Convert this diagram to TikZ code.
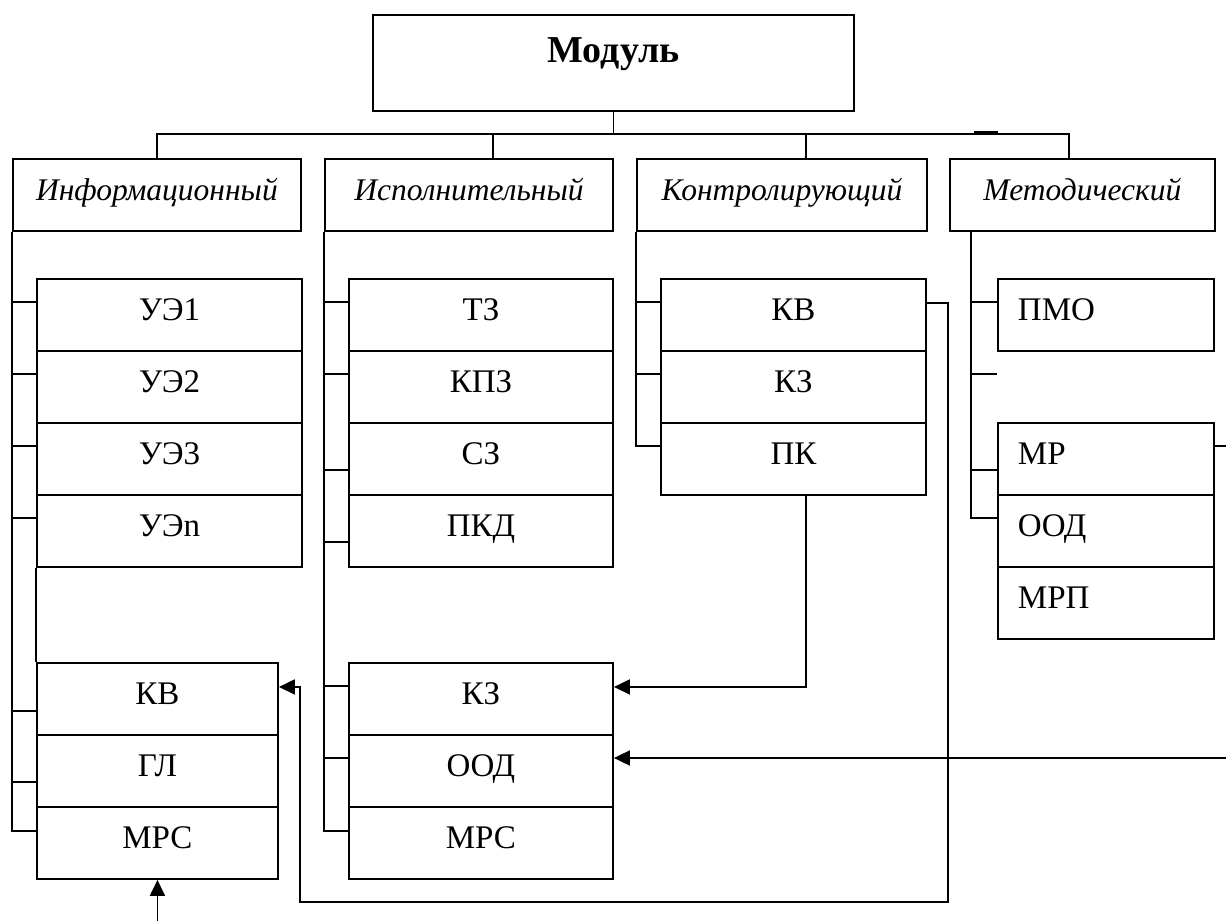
\documentclass[tikz,border=0pt]{standalone}
\usepackage{fontspec}
\setmainfont{Liberation Serif}
\usetikzlibrary{arrows.meta}
\begin{document}
\begin{tikzpicture}[x=1pt,y=-1pt, line width=1.9pt,
  box/.style={draw, anchor=north west, inner sep=0pt, minimum height=72pt,
    text height=21pt, text depth=10pt, font=\fontsize{33}{38}\selectfont},
  cat/.style={box, font=\fontsize{31.5}{36}\selectfont\itshape},
  titlebox/.style={box, text height=12pt, text depth=12pt, font=\fontsize{38}{42}\selectfont\bfseries},
  mbox/.style={box, text width=176pt, align=left, inner xsep=20pt},
  arr/.style={-{Triangle[length=16pt,width=15pt]}}
]
\useasboundingbox (0,0) rectangle (1226,921);

% title and categories
\node[titlebox, minimum width=481pt, minimum height=96pt] (mod) at (372,14) {Модуль};
\node[cat, minimum width=288pt] (inf) at (12,158) {Информационный};
\node[cat, minimum width=288pt] (isp) at (324,158) {Исполнительный};
\node[cat, minimum width=290pt] (kon) at (636,158) {Контролирующий};
\node[cat, minimum width=265pt, inner xsep=0pt, text width=245pt, align=center] (met) at (949,158) {Методический};

% information column
\node[box, minimum width=265pt] (ue1) at (36,278) {УЭ1};
\node[box, minimum width=265pt] (ue2) at (36,350) {УЭ2};
\node[box, minimum width=265pt] (ue3) at (36,422) {УЭ3};
\node[box, minimum width=265pt] (uen) at (36,494) {УЭn};
\node[box, minimum width=241pt] (ikv) at (36,662) {КВ};
\node[box, minimum width=241pt] (igl) at (36,734) {ГЛ};
\node[box, minimum width=241pt] (imrs) at (36,806) {МРС};

% executive column
\node[box, minimum width=264pt] (tz) at (348,278) {ТЗ};
\node[box, minimum width=264pt] (kpz) at (348,350) {КПЗ};
\node[box, minimum width=264pt] (sz) at (348,422) {СЗ};
\node[box, minimum width=264pt] (pkd) at (348,494) {ПКД};
\node[box, minimum width=264pt] (kz2) at (348,662) {КЗ};
\node[box, minimum width=264pt] (ood2) at (348,734) {ООД};
\node[box, minimum width=264pt] (mrs2) at (348,806) {МРС};

% control column
\node[box, minimum width=265pt] (kv) at (660,278) {КВ};
\node[box, minimum width=265pt] (kz) at (660,350) {КЗ};
\node[box, minimum width=265pt] (pk) at (660,422) {ПК};

% methodical column
\node[mbox] (pmo) at (997,278) {ПМО};
\node[mbox] (mr) at (997,422) {МР};
\node[mbox] (mood) at (997,494) {ООД};
\node[mbox] (mrp) at (997,566) {МРП};

% top bus
\coordinate (bus) at (612.5,134);
\draw (mod.south) -- (mod.south |- bus);
\draw (inf.north) |- (1069,134) -- (1069,158);
\draw ([xshift=24pt]isp.north) -- ([xshift=24pt]isp.north |- bus);
\draw ([xshift=24pt]kon.north) -- ([xshift=24pt]kon.north |- bus);
\draw[line width=3pt] (974,132.5) -- (998,132.5);

% information column lines
\draw (inf.south west) |- ([yshift=-25pt]imrs.north west);
\draw ([yshift=-24pt]ue1.north west) -- ++(-24,0);
\draw ([yshift=-24pt]ue2.north west) -- ++(-24,0);
\draw ([yshift=-24pt]ue3.north west) -- ++(-24,0);
\draw ([yshift=-24pt]uen.north west) -- ++(-24,0);
\draw ([yshift=-49pt]ikv.north west) -- ++(-24,0);
\draw ([yshift=-48pt]igl.north west) -- ++(-24,0);
\draw (uen.south west) -- (ikv.north west);

% executive column lines
\draw (isp.south west) |- ([yshift=-25pt]mrs2.north west);
\draw ([yshift=-24pt]tz.north west) -- ++(-24,0);
\draw ([yshift=-24pt]kpz.north west) -- ++(-24,0);
\draw ([yshift=-48pt]sz.north west) -- ++(-24,0);
\draw ([yshift=-48pt]pkd.north west) -- ++(-24,0);
\draw ([yshift=-24pt]kz2.north west) -- ++(-24,0);
\draw ([yshift=-24pt]ood2.north west) -- ++(-24,0);

% control column lines
\draw (kon.south west) |- ([yshift=-24pt]pk.north west);
\draw ([yshift=-24pt]kv.north west) -- ++(-24,0);
\draw ([yshift=-24pt]kz.north west) -- ++(-24,0);

% methodical column lines
\draw ([xshift=22pt]met.south west) |- ([yshift=-24pt]mood.north west);
\draw ([yshift=-24pt]pmo.north west) -- ++(-25,0);
\draw ([yshift=-96pt]pmo.north west) -- ++(-25,0);
\draw ([yshift=-48pt]mr.north west) -- ++(-25,0);
\coordinate (mrend) at (1226,446);
\draw ([yshift=-24pt]mr.north east) -- (mrend);

% arrows
\draw[arr] ([xshift=12.5pt]pk.south) |- ([yshift=12pt]kz2.east);
\coordinate (oodin) at (1226,758);
\draw[arr] (oodin) -- (oodin -| ood2.east);
\coordinate (loopa) at (948,902);
\coordinate (loopb) at (300,902);
\draw[arr] ([yshift=12pt]kv.east) -| (loopa) -- (loopb) |- ([yshift=12pt]ikv.east);
\coordinate (mrsin) at (156.5,921);
\draw[arr] (imrs.south |- mrsin) -- (imrs.south);
\end{tikzpicture}
\end{document}
